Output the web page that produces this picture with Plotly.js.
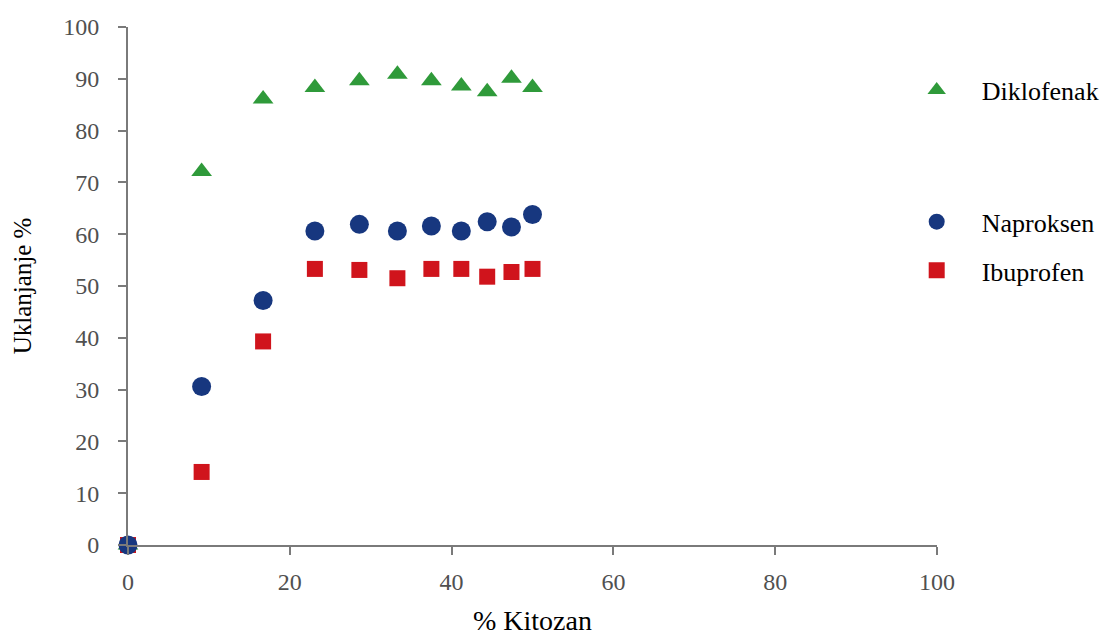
<!DOCTYPE html>
<html>
<head>
<meta charset="utf-8">
<script src="https://cdn.plot.ly/plotly-3.0.1.min.js"></script>
<style>html,body{margin:0;padding:0;background:#fff;}#chart{width:1117px;height:636px;}</style>
</head>
<body>
<div id="chart"></div>
<script>
// % Kitozan
const kitozan = [0, 9.1, 16.7, 23.1, 28.6, 33.3, 37.5, 41.2, 44.4, 47.4, 50];
// Uklanjanje %
const diklofenak = [0, 72.1, 86.1, 88.3, 89.6, 90.9, 89.6, 88.6, 87.5, 90.1, 88.3];
const naproksen  = [0, 30.6, 47.2, 60.6, 61.9, 60.6, 61.6, 60.6, 62.4, 61.4, 63.8];
const ibuprofen  = [0, 14.1, 39.3, 53.3, 53.1, 51.5, 53.3, 53.3, 51.8, 52.7, 53.3];
const seriesNames = ['Diklofenak', 'Naproksen', 'Ibuprofen'];
const xTicks = [0, 20, 40, 60, 80, 100];
const yTicks = [0, 10, 20, 30, 40, 50, 60, 70, 80, 90, 100];

const serif = 'Liberation Serif, Times New Roman, serif';
const traces = [
  {x: kitozan, y: diklofenak, name: seriesNames[0], type: 'scatter', mode: 'markers', legend: 'legend',
   marker: {symbol: 'triangle-up', size: 18, color: '#2f9a3a'}, cliponaxis: false},
  {x: kitozan, y: ibuprofen, name: seriesNames[2], type: 'scatter', mode: 'markers', legend: 'legend3',
   marker: {symbol: 'square', size: 16, color: '#d0141c'}, cliponaxis: false},
  {x: kitozan, y: naproksen, name: seriesNames[1], type: 'scatter', mode: 'markers', legend: 'legend2',
   marker: {symbol: 'circle', size: 19, color: '#17377f'}, cliponaxis: false}
];
const legendBase = {xref: 'paper', yref: 'paper', xanchor: 'left', yanchor: 'middle',
  bgcolor: 'rgba(0,0,0,0)', font: {family: serif, size: 26, color: '#000'}, itemwidth: 80};
const layout = {
  width: 1117, height: 636,
  margin: {l: 128, r: 180, t: 27, b: 91},
  paper_bgcolor: '#fff', plot_bgcolor: '#fff',
  showlegend: true,
  legend: Object.assign({}, legendBase, {x: 0.944, y: 0.878}),
  legend2: Object.assign({}, legendBase, {x: 0.944, y: 0.624}),
  legend3: Object.assign({}, legendBase, {x: 0.944, y: 0.530}),
  xaxis: {
    range: [0, 100], tickvals: xTicks, ticktext: xTicks.map(String),
    showgrid: false, zeroline: false, showline: true, linecolor: '#7a7a7a', linewidth: 2,
    ticks: 'outside', ticklen: 8, tickwidth: 2, tickcolor: '#7a7a7a',
    tickfont: {family: serif, size: 24, color: '#505050'}, ticklabelstandoff: 6,
    title: {text: '% Kitozan', font: {family: serif, size: 28, color: '#000'}, standoff: 18}
  },
  yaxis: {
    range: [0, 100], tickvals: yTicks, ticktext: yTicks.map(String),
    showgrid: false, zeroline: false, showline: true, linecolor: '#7a7a7a', linewidth: 2,
    ticks: 'outside', ticklen: 8, tickwidth: 2, tickcolor: '#7a7a7a',
    tickfont: {family: serif, size: 24, color: '#505050'}, ticklabelstandoff: 14,
    title: {text: 'Uklanjanje %', font: {family: serif, size: 25, color: '#000'}, standoff: 24}
  }
};
Plotly.newPlot('chart', traces, layout, {displayModeBar: false, staticPlot: true});
</script>
</body>
</html>
